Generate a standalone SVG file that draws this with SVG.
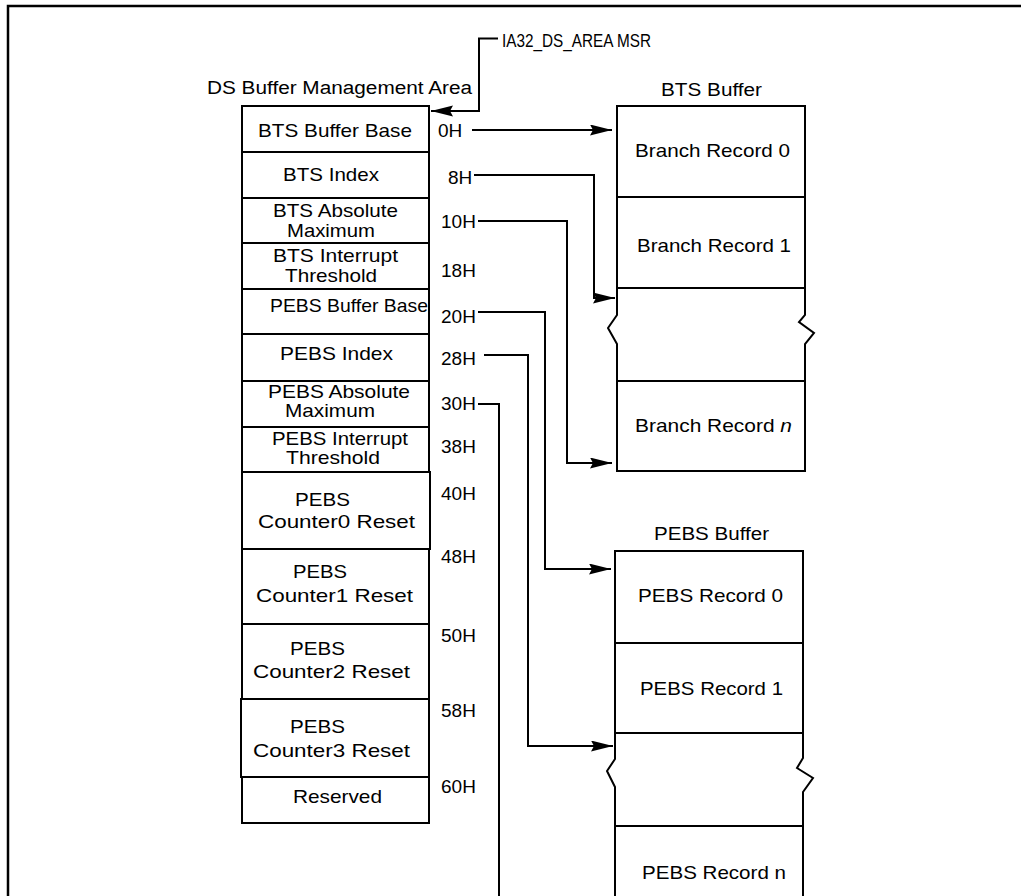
<svg xmlns="http://www.w3.org/2000/svg" width="1021" height="896" viewBox="0 0 1021 896">
<style>
text{font-family:"Liberation Sans",Arial,sans-serif;fill:#000;font-size:19px}
.c{text-anchor:middle}
.t{font-size:18px}
.box{fill:#fff;stroke:#000;stroke-width:2}
.bx{fill:none;stroke:#000;stroke-width:2}
.con{fill:none;stroke:#000;stroke-width:2}
.frame{fill:none;stroke:#000;stroke-width:2.5}
</style>
<defs>
<marker id="ah" markerUnits="userSpaceOnUse" markerWidth="23" markerHeight="12" refX="22" refY="5.5" orient="auto">
<path d="M0,0 L22,5.5 L0,11 L3,5.5 z" fill="#000"/>
</marker>
</defs>
<rect x="0" y="0" width="1021" height="896" fill="#fff"/>
<path class="frame" d="M8,896 V6 H1021"/>

<g id="labels">
<text class="t" x="502" y="47" textLength="149" lengthAdjust="spacingAndGlyphs">IA32_DS_AREA MSR</text>
<text class="t" x="207" y="94" textLength="265" lengthAdjust="spacingAndGlyphs">DS Buffer Management Area</text>
<text class="t c" x="711.5" y="96" textLength="101" lengthAdjust="spacingAndGlyphs">BTS Buffer</text>
<text class="t c" x="711.5" y="540" textLength="115" lengthAdjust="spacingAndGlyphs">PEBS Buffer</text>
</g>

<g id="ds-area">
<g id="n-bts-base"><rect class="box" x="242" y="106" width="187" height="46"/><text class="c" x="335" y="137" textLength="154" lengthAdjust="spacingAndGlyphs">BTS Buffer Base</text></g>
<g id="n-bts-index"><rect class="box" x="242" y="152" width="187" height="46"/><text class="c" x="331" y="181" textLength="96" lengthAdjust="spacingAndGlyphs">BTS Index</text></g>
<g id="n-bts-absmax"><rect class="box" x="242" y="198" width="187" height="45"/><text class="c" x="335.5" y="217" textLength="125" lengthAdjust="spacingAndGlyphs">BTS Absolute</text><text class="c" x="331" y="237" textLength="88" lengthAdjust="spacingAndGlyphs">Maximum</text></g>
<g id="n-bts-thresh"><rect class="box" x="242" y="243" width="187" height="46"/><text class="c" x="335.5" y="262" textLength="125" lengthAdjust="spacingAndGlyphs">BTS Interrupt</text><text class="c" x="331" y="282" textLength="92" lengthAdjust="spacingAndGlyphs">Threshold</text></g>
<g id="n-pebs-base"><rect class="box" x="242" y="289" width="187" height="45"/><text class="c" x="349" y="312" textLength="158" lengthAdjust="spacingAndGlyphs">PEBS Buffer Base</text></g>
<g id="n-pebs-index"><rect class="box" x="242" y="334" width="187" height="47"/><text class="c" x="336.5" y="360" textLength="113" lengthAdjust="spacingAndGlyphs">PEBS Index</text></g>
<g id="n-pebs-absmax"><rect class="box" x="242" y="381" width="187" height="46"/><text class="c" x="339" y="398" textLength="142" lengthAdjust="spacingAndGlyphs">PEBS Absolute</text><text class="c" x="330" y="417" textLength="90" lengthAdjust="spacingAndGlyphs">Maximum</text></g>
<g id="n-pebs-thresh"><rect class="box" x="242" y="427" width="187" height="45"/><text class="c" x="340" y="445" textLength="136" lengthAdjust="spacingAndGlyphs">PEBS Interrupt</text><text class="c" x="333" y="464" textLength="94" lengthAdjust="spacingAndGlyphs">Threshold</text></g>
<g id="n-ctr0"><rect class="box" x="242" y="472" width="188" height="77" stroke-width="2.5"/><text class="c" x="322.5" y="506" textLength="55" lengthAdjust="spacingAndGlyphs">PEBS</text><text class="c" x="336.5" y="528" textLength="157" lengthAdjust="spacingAndGlyphs">Counter0 Reset</text></g>
<g id="n-ctr1"><rect class="box" x="242" y="549" width="187" height="75" stroke-width="2.5"/><text class="c" x="320" y="578" textLength="54" lengthAdjust="spacingAndGlyphs">PEBS</text><text class="c" x="334.5" y="602" textLength="157" lengthAdjust="spacingAndGlyphs">Counter1 Reset</text></g>
<g id="n-ctr2"><rect class="box" x="242" y="624" width="187" height="75" stroke-width="2.5"/><text class="c" x="317.5" y="655" textLength="55" lengthAdjust="spacingAndGlyphs">PEBS</text><text class="c" x="331.5" y="678" textLength="157" lengthAdjust="spacingAndGlyphs">Counter2 Reset</text></g>
<g id="n-ctr3"><rect class="box" x="241" y="699" width="188" height="78" stroke-width="2.5"/><text class="c" x="317.5" y="733" textLength="55" lengthAdjust="spacingAndGlyphs">PEBS</text><text class="c" x="331.5" y="757" textLength="157" lengthAdjust="spacingAndGlyphs">Counter3 Reset</text></g>
<g id="n-reserved"><rect class="box" x="242" y="777" width="187" height="46"/><text class="c" x="337.5" y="803" textLength="89" lengthAdjust="spacingAndGlyphs">Reserved</text></g>
</g>

<g id="offsets">
<text x="438" y="137">0H</text>
<text x="448" y="184">8H</text>
<text x="441" y="228">10H</text>
<text x="441" y="277">18H</text>
<text x="441" y="323">20H</text>
<text x="441" y="365">28H</text>
<text x="441" y="410">30H</text>
<text x="441" y="453">38H</text>
<text x="441" y="500">40H</text>
<text x="441" y="563">48H</text>
<text x="441" y="642">50H</text>
<text x="441" y="717">58H</text>
<text x="441" y="793">60H</text>
</g>

<g id="bts-buffer">
<g id="n-br0"><rect class="box" x="617" y="106" width="188" height="91"/><text class="c" x="712.5" y="157" textLength="155" lengthAdjust="spacingAndGlyphs">Branch Record 0</text></g>
<g id="n-br1"><rect class="box" x="617" y="197" width="188" height="91"/><text class="c" x="714" y="252" textLength="154" lengthAdjust="spacingAndGlyphs">Branch Record 1</text></g>
<g id="n-bts-gap"><path class="bx" d="M617,288 V315 L608,328 L617,344 V381"/><path class="bx" d="M805,288 V315 L799,322 L814,333 L805,344 V381"/></g>
<g id="n-brn"><rect class="box" x="617" y="381" width="188" height="90"/><text class="c" x="713.5" y="432" textLength="157" lengthAdjust="spacingAndGlyphs">Branch Record <tspan font-style="italic">n</tspan></text></g>
</g>

<g id="pebs-buffer">
<g id="n-pr0"><rect class="box" x="615" y="551" width="188" height="92"/><text class="c" x="710.5" y="602" textLength="145" lengthAdjust="spacingAndGlyphs">PEBS Record 0</text></g>
<g id="n-pr1"><rect class="box" x="615" y="643" width="188" height="90"/><text class="c" x="711.5" y="695" textLength="143" lengthAdjust="spacingAndGlyphs">PEBS Record 1</text></g>
<g id="n-pebs-gap"><path class="bx" d="M615,733 V759 L607,771 L615,787 V826"/><path class="bx" d="M803,733 V758 L797,768 L813,778 L803,792 V826"/></g>
<g id="n-prn"><rect class="box" x="615" y="826" width="188" height="80"/><text class="c" x="714" y="879" textLength="144" lengthAdjust="spacingAndGlyphs">PEBS Record n</text></g>
</g>

<g id="connectors">
<path class="con" d="M498,38.5 H479 V111 H431" marker-end="url(#ah)"/>
<path class="con" d="M472,130 H612" marker-end="url(#ah)"/>
<path class="con" d="M474,175 H594 V298 H615" marker-end="url(#ah)"/>
<path class="con" d="M478,221 H567 V463 H612" marker-end="url(#ah)"/>
<path class="con" d="M478,312 H545 V569 H611" marker-end="url(#ah)"/>
<path class="con" d="M484,355 H528 V746 H613" marker-end="url(#ah)"/>
<path class="con" d="M478,404 H499 V896"/>
</g>
</svg>
